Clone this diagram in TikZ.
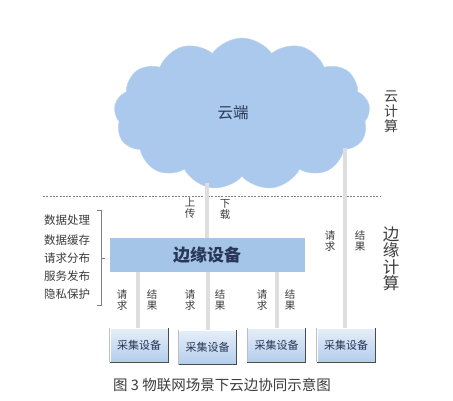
\documentclass[tikz,border=0pt]{standalone}
\usepackage{fontspec}
\setmainfont{Noto Sans CJK SC}
\usetikzlibrary{shapes.symbols}
\definecolor{cloudblue}{RGB}{170,201,236}
\definecolor{edgeblue}{RGB}{165,197,232}
\definecolor{navy}{RGB}{40,55,85}
\definecolor{linkgray}{RGB}{222,222,222}
\definecolor{txtgray}{RGB}{60,60,60}
\tikzset{
  link/.style={draw=linkgray, line width=3.5pt},
  vlabel/.style={font=\fontsize{10.5}{11}\selectfont, text=txtgray, align=center, inner sep=0pt},
  listtxt/.style={font=\fontsize{11.5}{12}\selectfont, text=txtgray, inner sep=0pt, anchor=west},
  collector/.style={minimum width=58pt, minimum height=34pt, inner sep=0pt,
    top color=cloudblue!30, bottom color=edgeblue!85, draw=white,
    font=\fontsize{11}{11}\selectfont, text=navy},
  sidetxt/.style={align=center, inner sep=0pt, text=txtgray}
}
\begin{document}
\begin{tikzpicture}[x=1pt,y=-1pt]
\useasboundingbox[fill=white] (0,0) rectangle (453,400);
% cloud
\node[cloud, cloud puffs=13, cloud puff arc=110, aspect=1.65, fill=cloudblue, draw=cloudblue!80!white,
      minimum width=256pt, minimum height=152pt, inner sep=0pt] (cloud) at (242,114) {};
\node[font=\fontsize{15.5}{16}\selectfont, text=navy] (cloudtxt) at (233,113) {云端};
% side labels
\node[sidetxt, font=\fontsize{14}{15}\selectfont] (cc) at (391,112) {云\\计\\算};
\node[sidetxt, font=\fontsize{16.5}{16.5}\selectfont] (ec) at (391,259) {边\\缘\\计\\算};
% dashed separator
\coordinate (dashL) at (43,196);
\coordinate (dashR) at (381,196);
\draw[gray, line width=0.9pt, dash pattern=on 2pt off 1.3pt] (dashL) -- (dashR);
% edge device
\node[fill=edgeblue, minimum width=195pt, minimum height=34pt, inner sep=0pt,
      font=\fontsize{17}{18}\selectfont\bfseries, text=navy] (edge) at (207,255) {边缘设备};
% collectors
\node[collector] (c1) at (139,345) {采集设备};
\node[collector] (c2) at (207.5,347.5) {采集设备};
\node[collector] (c3) at (276.5,345) {采集设备};
\node[collector] (c4) at (346,345) {采集设备};
\foreach \c in {c1,c2,c3,c4}{
  \draw[gray!60!black, line width=1.3pt] (\c.north east) -- (\c.south east) -- (\c.south west);
  \draw[gray!50, line width=0.8pt] (\c.south west) -- (\c.north west);
}
% connectors
\coordinate (up1) at (207,183);
\coordinate (up4) at (345,148);
\draw[link] (up1) -- (edge.north);
\draw[link] (edge.south -| 138,0) -- (c1.north -| 138,0);
\draw[link] (edge.south -| 208,0) -- (c2.north -| 208,0);
\draw[link] (edge.south -| 277,0) -- (c3.north -| 277,0);
\draw[link] (up4) -- (c4.north -| up4);
% connector labels
\node[vlabel] (l1) at (190,208) {上\\传};
\node[vlabel] (l2) at (225,209) {下\\载};
\node[vlabel] (r1) at (122,300) {请\\求};
\node[vlabel] (s1) at (152,300) {结\\果};
\node[vlabel] (r2) at (190,300) {请\\求};
\node[vlabel] (s2) at (220,300) {结\\果};
\node[vlabel] (r3) at (262,300) {请\\求};
\node[vlabel] (s3) at (290,300) {结\\果};
\node[vlabel] (r4) at (330,241) {请\\求};
\node[vlabel] (s4) at (360,241) {结\\果};
% list
\node[listtxt] (t1) at (44,220) {数据处理};
\node[listtxt] (t2) at (44,240) {数据缓存};
\node[listtxt] (t3) at (44,258) {请求分布};
\node[listtxt] (t4) at (44,276) {服务发布};
\node[listtxt] (t5) at (44,294) {隐私保护};
\coordinate (bt) at (101,210);
\coordinate (bb) at (101,305);
\coordinate (bm) at (101,258);
\draw[gray, line width=0.8pt] ([xshift=-4pt]bt) -- (bt) -- (bb) -- ([xshift=-4pt]bb);
\draw[gray, line width=0.8pt] (bm) -- ([xshift=4pt]bm);
% caption
\node[font=\fontsize{14.5}{15}\selectfont, text=txtgray] (cap) at (222,385) {图 3\ 物联网场景下云边协同示意图};
\end{tikzpicture}
\end{document}
